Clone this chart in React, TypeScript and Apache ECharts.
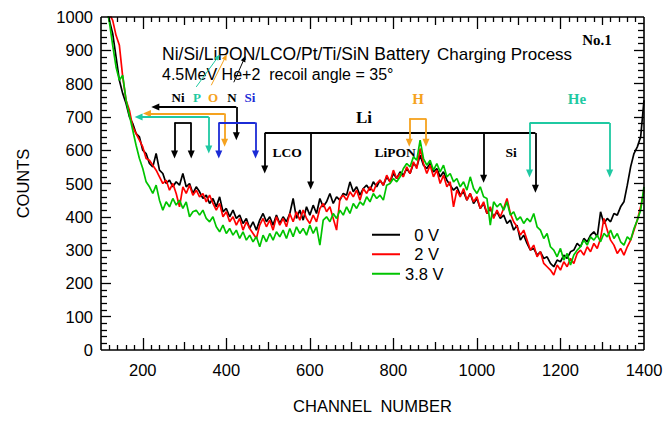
import React, { useEffect, useRef } from 'react';
import * as echarts from 'echarts';

const channels = [
  112, 120, 128, 136, 144, 152, 160, 168, 176, 184,
  192, 200, 208, 216, 224, 232, 240, 248, 256, 264,
  272, 280, 288, 296, 304, 312, 320, 328, 336, 344,
  352, 360, 368, 376, 384, 392, 400, 408, 416, 424,
  432, 440, 448, 456, 464, 472, 480, 488, 496, 504,
  512, 520, 528, 536, 544, 552, 560, 568, 576, 584,
  592, 600, 608, 616, 624, 632, 640, 648, 656, 664,
  672, 680, 688, 696, 704, 712, 720, 728, 736, 744,
  752, 760, 768, 776, 784, 792, 800, 808, 816, 824,
  832, 840, 848, 856, 864, 872, 880, 888, 896, 904,
  912, 920, 928, 936, 944, 952, 960, 968, 976, 984,
  992, 1000, 1008, 1016, 1024, 1032, 1040, 1048, 1056, 1064,
  1072, 1080, 1088, 1096, 1104, 1112, 1120, 1128, 1136, 1144,
  1152, 1160, 1168, 1176, 1184, 1192, 1200, 1208, 1216, 1224,
  1232, 1240, 1248, 1256, 1264, 1272, 1280, 1288, 1296, 1304,
  1312, 1320, 1328, 1336, 1344, 1352, 1360, 1368, 1376, 1384,
  1392, 1400,
];

const counts0V = [
  1040, 990, 950, 880, 810, 770, 740, 700, 680, 650,
  640, 600, 590, 560, 550, 590, 540, 530, 500, 510,
  490, 505, 495, 530, 490, 500, 470, 490, 475, 455,
  465, 440, 455, 430, 460, 415, 425, 400, 420, 395,
  405, 380, 395, 365, 385, 360, 390, 410, 385, 400,
  375, 405, 380, 400, 385, 410, 455, 395, 420, 390,
  430, 405, 435, 410, 455, 430, 445, 470, 440, 460,
  450, 470, 465, 505, 475, 490, 465, 485, 495, 480,
  505, 490, 510, 495, 520, 505, 530, 515, 535, 525,
  545, 530, 560, 550, 585, 555, 545, 560, 535, 545,
  520, 535, 510, 495, 480, 490, 465, 475, 450, 470,
  440, 455, 425, 440, 410, 425, 400, 415, 395, 405,
  380, 390, 360, 375, 330, 345, 320, 300, 305, 285,
  295, 275, 280, 260, 250, 270, 265, 285, 275, 295,
  300, 320, 310, 335, 325, 345, 355, 340, 415, 380,
  395, 385, 410, 405, 430, 445, 495, 550, 590, 610,
  640, 750,
];

const counts2V = [
  1040, 1010, 990, 945, 915, 820, 750, 720, 670, 650,
  630, 610, 575, 570, 555, 540, 520, 500, 510, 480,
  500, 470, 430, 490, 470, 495, 465, 480, 460, 470,
  445, 465, 440, 420, 440, 400, 415, 385, 400, 375,
  395, 360, 385, 365, 350, 335, 375, 395, 370, 390,
  360, 400, 375, 395, 370, 410, 385, 415, 390, 420,
  395, 380, 405, 385, 425, 440, 415, 430, 395, 360,
  455, 465, 450, 475, 460, 480, 450, 485, 470, 490,
  475, 500, 510, 495, 525, 505, 540, 515, 530, 520,
  550, 530, 565, 545, 605, 560, 530, 555, 520, 540,
  500, 525, 490, 505, 430, 480, 460, 485, 450, 470,
  445, 460, 425, 445, 410, 430, 395, 420, 400, 425,
  455, 410, 385, 370, 345, 360, 330, 300, 315, 280,
  295, 260, 250, 240, 225, 255, 240, 265, 250, 275,
  260, 290, 300, 285, 310, 295, 320, 305, 335, 395,
  360, 330, 315, 290, 305, 285, 310, 330, 360, 390,
  430, 480,
];

const counts38V = [
  1040, 985, 915, 850, 810, 825, 750, 705, 660, 615,
  575, 545, 505, 490, 470, 495, 450, 420, 445, 430,
  455, 435, 450, 425, 445, 400, 415, 420, 405, 420,
  395, 385, 400, 370, 355, 375, 350, 365, 345, 360,
  335, 355, 330, 345, 325, 340, 310, 345, 325, 350,
  330, 355, 340, 360, 335, 365, 340, 370, 350, 365,
  345, 375, 350, 370, 315, 390, 400, 385, 410, 395,
  420, 405, 430, 410, 440, 425, 445, 435, 460, 445,
  470, 455, 465, 450, 495, 500, 515, 505, 520, 545,
  560, 550, 580, 570, 630, 575, 555, 570, 540, 560,
  535, 555, 520, 530, 505, 515, 490, 505, 480, 520,
  485, 470, 490, 460, 455, 375, 445, 430, 440, 420,
  445, 405, 415, 390, 400, 380, 395, 385, 410, 370,
  360, 335, 350, 310, 300, 280, 305, 270, 290, 255,
  285, 300, 310, 330, 315, 340, 330, 345, 325, 350,
  340, 360, 335, 350, 325, 315, 340, 330, 365, 390,
  420, 490,
];

const seriesNames = ['0 V', '2 V', '3.8 V'];
const xRange = [100, 1400];
const yRange = [0, 1000];

// Annotation segments in data coordinates: [x1, y1, x2, y2, arrowAtEnd]
const blackSegments = [
  [424, 730, 230, 730, 1], [424, 730, 424, 642, 1],
  [276, 683, 316, 683, 0], [276, 683, 276, 587, 1], [316, 683, 316, 587, 1],
  [492, 652, 1140, 652, 0], [492, 652, 492, 542, 1], [602, 652, 602, 494, 1],
  [1016, 652, 1016, 514, 1], [1140, 652, 1140, 484, 1],
];
const orangeSegments = [
  [396, 710, 210, 710, 1], [396, 710, 396, 622, 1],
  [838, 695, 878, 695, 0], [838, 695, 838, 622, 1], [878, 695, 878, 622, 1],
];
const tealSegments = [
  [358, 700, 190, 700, 1], [358, 700, 358, 602, 1],
  [1126, 682, 1318, 682, 0], [1126, 682, 1126, 530, 1], [1318, 682, 1318, 530, 1],
];
const blueSegments = [
  [382, 683, 470, 683, 0], [382, 683, 382, 587, 1], [470, 683, 470, 587, 1],
];
const diagonalArrows = [
  { color: '#1fc9a2', seg: [328, 790, 380, 880] },
  { color: '#f5a21e', seg: [364, 795, 398, 880] },
  { color: '#000000', seg: [418, 804, 443, 875] },
];

const colors = { black: '#000000', red: '#ff0000', green: '#00c400', teal: '#1fc9a2', orange: '#f5a21e', blue: '#1b2bd6' };

const sans = '"Liberation Sans", Arial, sans-serif';
const serif = '"Liberation Serif", "Times New Roman", serif';

// frame ticks, drawn as mark lines in data units (1 px = 2.4 channels = 3 counts)
const CH_PER_PX = (xRange[1] - xRange[0]) / 542;
const CNT_PER_PX = (yRange[1] - yRange[0]) / 333;

function segItems(segs: number[][], color: string, width: number) {
  return segs.map((s) => [
    { coord: [s[0], s[1]], symbol: 'none', lineStyle: { color, width, type: 'solid' } },
    {
      coord: [s[2], s[3]],
      symbol: s[4] ? 'triangle' : 'none',
      symbolSize: [7, 8],
      itemStyle: { color },
      lineStyle: { color, width, type: 'solid' },
    },
  ]);
}

function frameItems() {
  const w = 1.3;
  const ls = { color: '#000000', width: w, type: 'solid' };
  const pair = (a: number[], b: number[], width = w) => [
    { coord: a, symbol: 'none', lineStyle: { ...ls, width } },
    { coord: b, symbol: 'none', lineStyle: { ...ls, width } },
  ];
  const items: any[] = [];
  // frame
  items.push(pair([xRange[0], yRange[0]], [xRange[1], yRange[0]], 1.6));
  items.push(pair([xRange[0], yRange[1]], [xRange[1], yRange[1]], 1.6));
  items.push(pair([xRange[0], yRange[0]], [xRange[0], yRange[1]], 1.6));
  items.push(pair([xRange[1], yRange[0]], [xRange[1], yRange[1]], 1.6));
  for (let v = xRange[0] + 20; v < xRange[1]; v += 20) {
    const len = (v % 200 === 0 ? 12 : v % 100 === 0 ? 8 : 5) * CNT_PER_PX;
    items.push(pair([v, yRange[0]], [v, yRange[0] + len]));
    items.push(pair([v, yRange[1]], [v, yRange[1] - len]));
  }
  for (let v = yRange[0] + 20; v < yRange[1]; v += 20) {
    const len = (v % 100 === 0 ? 10 : 6) * CH_PER_PX;
    items.push(pair([xRange[0], v], [xRange[0] + len, v]));
    items.push(pair([xRange[1], v], [xRange[1] - len, v]));
  }
  return items;
}

function buildOption() {
  const mk = (arr: number[]) => channels.map((c, i) => [c, arr[i]]);
  const markData = [
    ...segItems(blackSegments, colors.black, 1.8),
    ...segItems(orangeSegments, colors.orange, 1.8),
    ...segItems(tealSegments, colors.teal, 1.8),
    ...segItems(blueSegments, colors.blue, 1.8),
    ...diagonalArrows.map((d) => [
      { coord: [d.seg[0], d.seg[1]], symbol: 'none', lineStyle: { color: d.color, width: 1, type: 'solid' } },
      { coord: [d.seg[2], d.seg[3]], symbol: 'triangle', symbolSize: [5, 6], itemStyle: { color: d.color }, lineStyle: { color: d.color, width: 1, type: 'solid' } },
    ]),
  ];

  const lineSeries = (name: string, arr: number[], color: string) => ({
    type: 'line',
    name,
    data: mk(arr),
    xAxisIndex: 0,
    yAxisIndex: 0,
    symbol: 'none',
    showSymbol: false,
    lineStyle: { color, width: 1.7 },
    itemStyle: { color },
  });

  const t = (text: string, x: number, y: number, size: number, color: string, family: string, weight: string, align = 'center') => ({
    type: 'text',
    x,
    y,
    silent: true,
    style: {
      text,
      fill: color,
      fontSize: size,
      fontFamily: family,
      fontWeight: weight,
      textAlign: align,
      textVerticalAlign: 'middle',
    },
  });

  return {
    animation: false,
    backgroundColor: '#ffffff',
    grid: { left: 101, right: 27, top: 17, bottom: 72, containLabel: false },
    xAxis: {
      type: 'value',
      position: 'bottom',
      min: xRange[0],
      max: xRange[1],
      interval: 100,
      axisLine: { show: false },
      axisTick: { show: false },
      splitLine: { show: false },
      axisLabel: {
        show: true,
        color: '#000',
        fontSize: 16.5,
        fontFamily: sans,
        margin: 11,
        formatter: (v: number) => (v % 200 === 0 ? String(v) : ''),
      },
      name: 'CHANNEL  NUMBER',
      nameLocation: 'middle',
      nameGap: 47,
      nameTextStyle: { color: '#000', fontSize: 16.5, fontFamily: sans },
    },
    yAxis: {
      type: 'value',
      position: 'left',
      min: yRange[0],
      max: yRange[1],
      interval: 100,
      axisLine: { show: false },
      axisTick: { show: false },
      splitLine: { show: false },
      axisLabel: { show: true, color: '#000', fontSize: 16.5, fontFamily: sans, margin: 8, formatter: (v: number) => String(v) },
      name: 'COUNTS',
      nameLocation: 'middle',
      nameGap: 70,
      nameRotate: 90,
      nameTextStyle: { color: '#000', fontSize: 16.5, fontFamily: sans },
    },
    legend: {
      data: seriesNames,
      orient: 'vertical',
      left: 367,
      top: 220,
      icon: 'rect',
      itemWidth: 28,
      itemHeight: 2,
      itemGap: 0,
      selectedMode: false,
      formatter: (n: string) => (n === '3.8 V' ? n : '  ' + n),
      textStyle: { color: '#000', fontSize: 16.5, fontFamily: sans, lineHeight: 19.5 },
    },
    series: [
      lineSeries(seriesNames[0], counts0V, colors.black),
      lineSeries(seriesNames[1], counts2V, colors.red),
      lineSeries(seriesNames[2], counts38V, colors.green),
      {
        type: 'line',
        name: 'frame',
        data: [],
        xAxisIndex: 0,
        yAxisIndex: 0,
        silent: true,
        clip: false,
        z: 6,
        markLine: {
          silent: true,
          symbol: ['none', 'none'],
          label: { show: false },
          data: frameItems(),
        },
      },
      {
        type: 'line',
        name: 'annotations',
        data: [],
        xAxisIndex: 0,
        yAxisIndex: 0,
        silent: true,
        markLine: {
          silent: true,
          symbol: ['none', 'none'],
          label: { show: false },
          data: markData,
        },
      },
    ],
    graphic: [
      t('Ni/Si/LiPON/LCO/Pt/Ti/SiN Battery', 162, 54, 17.5, '#000', sans, 'normal', 'left'),
      t('Charging Process', 437, 54, 17, '#000', sans, 'normal', 'left'),
      t('4.5MeV He+2  recoil angle = 35\u00b0', 162, 74, 16, '#000', sans, 'normal', 'left'),
      t('No.1', 597, 40, 15, '#000', serif, 'bold'),
      t('Ni', 178, 97, 13, colors.black, serif, 'bold'),
      t('P', 197, 97, 13, colors.teal, serif, 'bold'),
      t('O', 213, 97, 13, colors.orange, serif, 'bold'),
      t('N', 232, 97, 13, colors.black, serif, 'bold'),
      t('Si', 250, 97, 13, colors.blue, serif, 'bold'),
      t('Li', 364, 117, 17, colors.black, serif, 'bold'),
      t('LCO', 287, 152, 13.5, colors.black, serif, 'bold'),
      t('LiPON', 395, 152, 13.5, colors.black, serif, 'bold'),
      t('Si', 511, 152, 13.5, colors.black, serif, 'bold'),
      t('H', 418, 99, 15, colors.orange, serif, 'bold'),
      t('He', 577, 99, 15, colors.teal, serif, 'bold'),
    ],
  };
}

export default function App() {
  const ref = useRef<HTMLDivElement>(null);
  useEffect(() => {
    const chart = echarts.init(ref.current as HTMLDivElement, null, { renderer: 'svg' });
    chart.setOption(buildOption() as any);
    return () => chart.dispose();
  }, []);
  return <div ref={ref} style={{ position: 'fixed', left: 0, top: 0, width: 671, height: 422 }} />;
}
